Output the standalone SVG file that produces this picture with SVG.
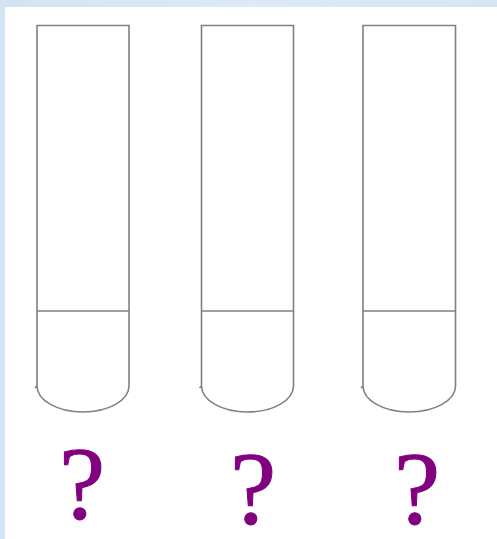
<svg xmlns="http://www.w3.org/2000/svg" width="497" height="539" viewBox="0 0 497 539">
<defs>
<linearGradient id="topband" x1="0" y1="0" x2="1" y2="0">
<stop offset="0" stop-color="#d3e3f4"/>
<stop offset="0.5" stop-color="#dde9f6"/>
<stop offset="1" stop-color="#d6e5f5"/>
</linearGradient>
</defs>
<style>
.tube{fill:#ffffff;stroke:#808080;stroke-width:1.6}
.div{stroke:#808080;stroke-width:1.6;fill:none}
.q{font-family:"Liberation Serif","Times New Roman",serif;font-size:104px;fill:#800080;stroke:#800080;stroke-width:1;text-anchor:middle}
</style>
<rect x="0" y="0" width="497" height="539" fill="#ffffff"/>
<rect x="0" y="0" width="497" height="7" fill="url(#topband)"/>
<rect x="0" y="0" width="5" height="539" fill="#d5e4f4"/>
<g id="tube1">
<path class="tube" d="M37,386 V25.5 H129 V386 A46,26 0 0 1 37,386 L35,388"/>
<line class="div" x1="37" y1="311" x2="129" y2="311"/>
</g>
<g id="tube2">
<path class="tube" d="M201.5,386 V25.5 H293.5 V386 A46,26 0 0 1 201.5,386 L199.5,388"/>
<line class="div" x1="201.5" y1="311" x2="293.5" y2="311"/>
</g>
<g id="tube3">
<path class="tube" d="M363,386 V25.5 H455.5 V386 A46.25,26 0 0 1 363,386 L361,388"/>
<line class="div" x1="363" y1="311" x2="455.5" y2="311"/>
</g>
<g id="q1"><text class="q" x="82" y="519">?</text></g>
<g id="q2"><text class="q" x="253" y="524">?</text></g>
<g id="q3"><text class="q" x="417" y="524">?</text></g>
</svg>
